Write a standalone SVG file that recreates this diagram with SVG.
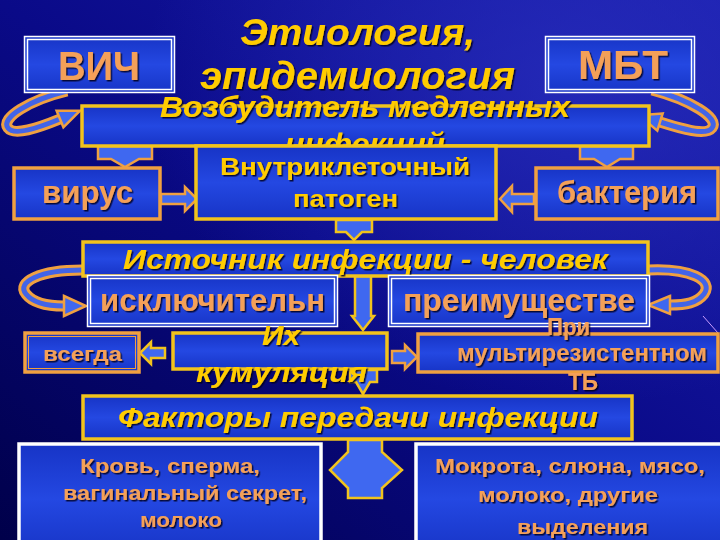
<svg xmlns="http://www.w3.org/2000/svg" width="720" height="540" viewBox="0 0 720 540">
<defs>
<linearGradient id="bg" x1="0" y1="1" x2="1" y2="0">
<stop offset="0" stop-color="#00004a"/>
<stop offset="0.5" stop-color="#0a0a88"/>
<stop offset="1" stop-color="#1a1eae"/>
</linearGradient>
<radialGradient id="glow" cx="0.8" cy="0.15" r="0.6">
<stop offset="0" stop-color="#2a30c0" stop-opacity="0.7"/>
<stop offset="1" stop-color="#2a30c0" stop-opacity="0"/>
</radialGradient>
<linearGradient id="boxfill" x1="0" y1="0" x2="0" y2="1">
<stop offset="0" stop-color="#1734c6"/>
<stop offset="0.5" stop-color="#2448e2"/>
<stop offset="1" stop-color="#1734c6"/>
</linearGradient>
<filter id="sh" x="-5%" y="-20%" width="115%" height="150%">
<feDropShadow dx="1.5" dy="1.5" stdDeviation="0.6" flood-color="#000020" flood-opacity="0.85"/>
</filter>
</defs>
<style>
.box{fill:url(#boxfill)}
.yb{stroke:#f2c31c;stroke-width:3.5}
.ob{stroke:#f0a040;stroke-width:3.5}
.wb{fill:none;stroke:#ffffff;stroke-width:1.5}
.wt{stroke:#ffffff;stroke-width:3.5}
.ol{fill:none;stroke:#f0a040;stroke-width:1}
.t{font-family:"Liberation Sans",Arial,sans-serif;font-weight:bold;filter:url(#sh)}
.y{fill:#ffcc00}
.o{fill:#f4a058}
.it{font-style:italic}
.arr{fill:#3f68f0;stroke-width:2.5;stroke-linejoin:miter}
.ao{stroke:#f0a040}
.ay{stroke:#f2c31c}
.cO{fill:none;stroke:#f0a040;stroke-width:11}
.cI{fill:none;stroke:#4264e8;stroke-width:5}
</style>
<rect width="720" height="540" fill="url(#bg)"/>
<rect width="720" height="540" fill="url(#glow)"/>
<line x1="703" y1="316" x2="718" y2="333" stroke="#c89cff" stroke-width="1"/>

<g id="connectors">
<polygon class="arr ao" points="98,146 152,146 152,159 139,159 125,167 111,159 98,159"/>
<polygon class="arr ao" points="580,146 633,146 633,159 620,159 607,167 594,159 580,159"/>
<polygon class="arr ao" points="161,194 185,194 185,187 197,199 185,211 185,204 161,204"/>
<polygon class="arr ao" points="534,194 512,194 512,186 500,199 512,212 512,204 534,204"/>
<polygon class="arr ay" points="336,220 372,220 372,232 362,232 354,240 346,232 336,232"/>
<polygon class="arr ay" points="355,276 371,276 371,316 374,316 363,330 352,316 355,316"/>
<polygon class="arr ay" points="165,348 151,348 151,342 140,353 151,364 151,358 165,358"/>
<polygon class="arr ao" points="392,351 405,351 405,345 417,357 405,369 405,363 392,363"/>
<polygon class="arr ay" points="350,370 377,370 377,382 370,382 363,394 356,382 350,382"/>
<polygon class="arr ay" points="348,440 382,440 382,452 402,470 382,488 382,498 348,498 348,488 330,470 348,452"/>
<g id="curve-vich">
<path class="cO" d="M 67,91 C 30,100 0,118 8,128 C 14,136 38,128 60,119"/>
<path class="cI" d="M 67,91 C 30,100 0,118 8,128 C 14,136 38,128 60,119"/>
<polygon class="arr ao" points="56.6,110.7 80,110.7 63.4,127.3"/>
</g>
<g id="curve-mbt">
<path class="cO" d="M 652,90 C 690,100 720,118 712,128 C 706,136 682,129 660,122"/>
<path class="cI" d="M 652,90 C 690,100 720,118 712,128 C 706,136 682,129 660,122"/>
<polygon class="arr ao" points="662.7,113.4 639,115.3 657.3,130.6"/>
</g>
<g id="curve-left">
<path class="cO" d="M 82,270 C 40,270 16,282 26,294 C 33,303 48,306 64,306"/>
<path class="cI" d="M 82,270 C 40,270 16,282 26,294 C 33,303 48,306 64,306"/>
<polygon class="arr ao" points="64,296 86,306 64,316"/>
</g>
<g id="curve-right">
<path class="cO" d="M 648,270 C 690,268 714,280 704,294 C 697,303 686,305 670,305"/>
<path class="cI" d="M 648,270 C 690,268 714,280 704,294 C 697,303 686,305 670,305"/>
<polygon class="arr ao" points="670,296 648,305 670,314"/>
</g>
</g>

<g id="title">
<text class="t y it" x="240" y="45" font-size="37" textLength="235" lengthAdjust="spacingAndGlyphs">Этиология,</text>
<text class="t y it" x="200" y="89" font-size="38" textLength="315" lengthAdjust="spacingAndGlyphs">эпидемиология</text>
</g>

<g id="vich">
<rect class="box" x="24" y="36" width="151" height="57"/>
<rect class="wb" x="24.5" y="36.5" width="150" height="56"/>
<rect class="wb" x="27.5" y="39.5" width="144" height="50"/>
<text class="t o" x="58" y="80" font-size="40" textLength="82" lengthAdjust="spacingAndGlyphs">ВИЧ</text>
</g>

<g id="mbt">
<rect class="box" x="545" y="36" width="150" height="57"/>
<rect class="wb" x="545.5" y="36.5" width="149" height="56"/>
<rect class="wb" x="548.5" y="39.5" width="143" height="50"/>
<text class="t o" x="578" y="79" font-size="40" textLength="90" lengthAdjust="spacingAndGlyphs">МБТ</text>
</g>

<g id="vozbuditel">
<rect class="box yb" x="82" y="106" width="567" height="40"/>
<text class="t y it" x="160" y="117" font-size="29" textLength="410" lengthAdjust="spacingAndGlyphs">Возбудитель медленных</text>
<text class="t y it" x="285" y="154" font-size="29" textLength="160" lengthAdjust="spacingAndGlyphs">инфекций</text>
</g>

<g id="virus">
<rect class="box ob" x="14" y="168" width="146" height="51"/>
<text class="t o" x="42" y="203" font-size="31" textLength="91" lengthAdjust="spacingAndGlyphs">вирус</text>
</g>

<g id="vnutrikletochny">
<rect class="box yb" x="196" y="146" width="300" height="73"/>
<text class="t y" x="220" y="175" font-size="24" textLength="250" lengthAdjust="spacingAndGlyphs">Внутриклеточный</text>
<text class="t y" x="293" y="207" font-size="24" textLength="105" lengthAdjust="spacingAndGlyphs">патоген</text>
</g>

<g id="bakteria">
<rect class="box ob" x="536" y="168" width="182" height="51"/>
<text class="t o" x="557" y="203" font-size="31" textLength="140" lengthAdjust="spacingAndGlyphs">бактерия</text>
</g>

<g id="istochnik">
<rect class="box yb" x="83" y="242" width="565" height="34"/>
<text class="t y it" x="123" y="269" font-size="27" textLength="485" lengthAdjust="spacingAndGlyphs">Источник инфекции - человек</text>
</g>

<g id="iskluchitelno">
<rect class="box" x="87" y="275" width="251" height="52"/>
<rect class="wb" x="87.5" y="275.5" width="250" height="51"/>
<rect class="wb" x="90.5" y="278.5" width="244" height="45"/>
<text class="t o" x="100" y="311" font-size="31" textLength="225" lengthAdjust="spacingAndGlyphs">исключительн</text>
</g>

<g id="preimushestvenno">
<rect class="box" x="388" y="275" width="262" height="52"/>
<rect class="wb" x="388.5" y="275.5" width="261" height="51"/>
<rect class="wb" x="391.5" y="278.5" width="255" height="45"/>
<text class="t o" x="403" y="311" font-size="31" textLength="232" lengthAdjust="spacingAndGlyphs">преимуществе</text>
</g>

<g id="vsegda">
<rect class="box ob" x="25" y="333" width="114" height="39"/>
<rect class="ol" x="28.5" y="336.5" width="107" height="32"/>
<text class="t o" x="43" y="361" font-size="20" textLength="79" lengthAdjust="spacingAndGlyphs">всегда</text>
</g>

<g id="kumulyacia">
<rect class="box yb" x="173" y="333" width="214" height="36"/>
<text class="t y it" x="262" y="345" font-size="27" textLength="38" lengthAdjust="spacingAndGlyphs">Их</text>
<text class="t y it" x="196" y="382" font-size="28" textLength="171" lengthAdjust="spacingAndGlyphs">кумуляция</text>
</g>

<g id="multirezistent">
<rect class="box ob" x="418" y="334" width="300" height="38"/>
<text class="t o" x="547" y="335" font-size="23" textLength="43" lengthAdjust="spacingAndGlyphs">При</text>
<text class="t o" x="457" y="361" font-size="23" textLength="250" lengthAdjust="spacingAndGlyphs">мультирезистентном</text>
<text class="t o" x="568" y="390" font-size="23" textLength="30" lengthAdjust="spacingAndGlyphs">ТБ</text>
</g>

<g id="faktory">
<rect class="box yb" x="83" y="396" width="549" height="43"/>
<text class="t y it" x="118" y="427" font-size="27" textLength="480" lengthAdjust="spacingAndGlyphs">Факторы передачи инфекции</text>
</g>

<g id="krov">
<rect class="box wt" x="19" y="444" width="302" height="110"/>
<text class="t o" x="80" y="473" font-size="21" textLength="180" lengthAdjust="spacingAndGlyphs">Кровь, сперма,</text>
<text class="t o" x="63" y="500" font-size="21" textLength="244" lengthAdjust="spacingAndGlyphs">вагинальный секрет,</text>
<text class="t o" x="140" y="527" font-size="21" textLength="82" lengthAdjust="spacingAndGlyphs">молоко</text>
</g>

<g id="mokrota">
<rect class="box wt" x="416" y="444" width="310" height="110"/>
<text class="t o" x="435" y="473" font-size="21" textLength="270" lengthAdjust="spacingAndGlyphs">Мокрота, слюна, мясо,</text>
<text class="t o" x="478" y="502" font-size="21" textLength="180" lengthAdjust="spacingAndGlyphs">молоко, другие</text>
<text class="t o" x="517" y="534" font-size="21" textLength="131" lengthAdjust="spacingAndGlyphs">выделения</text>
</g>
</svg>
